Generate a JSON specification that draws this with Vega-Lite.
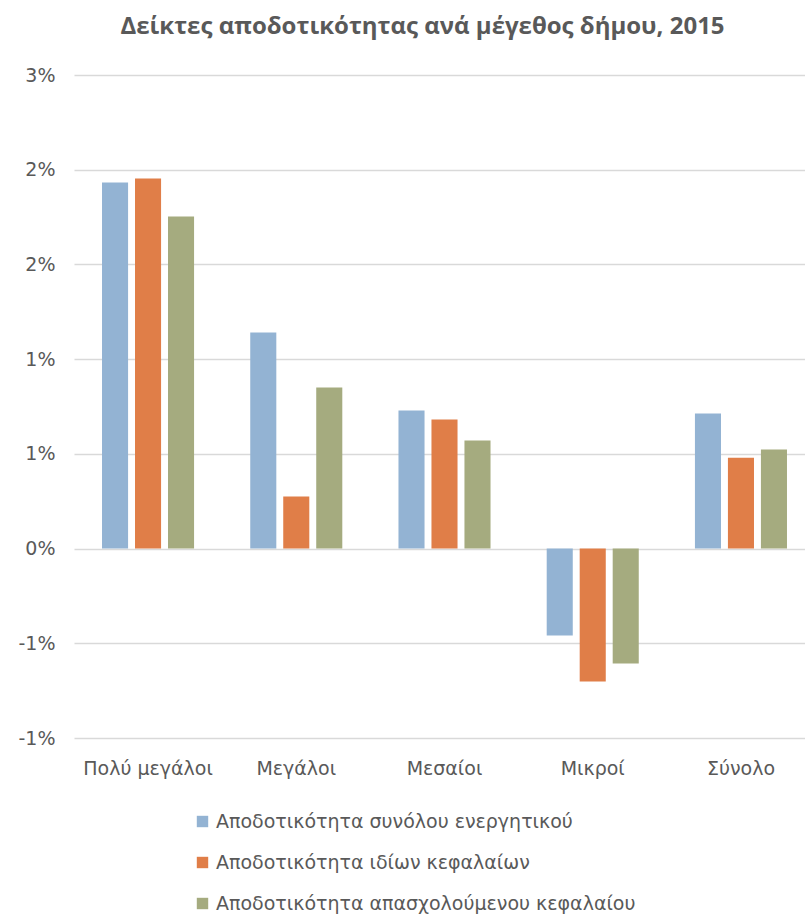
{
  "$schema": "https://vega.github.io/schema/vega-lite/v6.json",
  "width": 741,
  "height": 663,
  "autosize": {"type": "none"},
  "padding": {"left": 74, "top": 75, "right": 0, "bottom": 178},
  "background": "white",
  "title": {
    "text": "Δείκτες αποδοτικότητας ανά μέγεθος δήμου, 2015",
    "font": "Open Sans",
    "fontSize": 24,
    "fontWeight": "bold",
    "color": "#595959",
    "anchor": "middle",
    "baseline": "middle",
    "dx": -22,
    "offset": 15
  },
  "data": {
    "values": [
      {"category": "Πολύ μεγάλοι", "series": "Αποδοτικότητα συνόλου ενεργητικού", "value": 0.01932},
      {"category": "Πολύ μεγάλοι", "series": "Αποδοτικότητα ιδίων κεφαλαίων", "value": 0.01953},
      {"category": "Πολύ μεγάλοι", "series": "Αποδοτικότητα απασχολούμενου κεφαλαίου", "value": 0.01753},
      {"category": "Μεγάλοι", "series": "Αποδοτικότητα συνόλου ενεργητικού", "value": 0.0114},
      {"category": "Μεγάλοι", "series": "Αποδοτικότητα ιδίων κεφαλαίων", "value": 0.00275},
      {"category": "Μεγάλοι", "series": "Αποδοτικότητα απασχολούμενου κεφαλαίου", "value": 0.0085},
      {"category": "Μεσαίοι", "series": "Αποδοτικότητα συνόλου ενεργητικού", "value": 0.00729},
      {"category": "Μεσαίοι", "series": "Αποδοτικότητα ιδίων κεφαλαίων", "value": 0.00681},
      {"category": "Μεσαίοι", "series": "Αποδοτικότητα απασχολούμενου κεφαλαίου", "value": 0.0057},
      {"category": "Μικροί", "series": "Αποδοτικότητα συνόλου ενεργητικού", "value": -0.00459},
      {"category": "Μικροί", "series": "Αποδοτικότητα ιδίων κεφαλαίων", "value": -0.00702},
      {"category": "Μικροί", "series": "Αποδοτικότητα απασχολούμενου κεφαλαίου", "value": -0.00607},
      {"category": "Σύνολο", "series": "Αποδοτικότητα συνόλου ενεργητικού", "value": 0.00713},
      {"category": "Σύνολο", "series": "Αποδοτικότητα ιδίων κεφαλαίων", "value": 0.0048},
      {"category": "Σύνολο", "series": "Αποδοτικότητα απασχολούμενου κεφαλαίου", "value": 0.00523}
    ]
  },
  "mark": {"type": "bar"},
  "encoding": {
    "x": {
      "field": "category",
      "type": "nominal",
      "sort": ["Πολύ μεγάλοι", "Μεγάλοι", "Μεσαίοι", "Μικροί", "Σύνολο"],
      "scale": {"paddingInner": 0.379, "paddingOuter": 0.189},
      "axis": {
        "title": null,
        "labelAngle": 0,
        "labelFont": "DejaVu Sans",
        "labelFontSize": 19,
        "labelColor": "#595959",
        "labelPadding": 21,
        "ticks": false,
        "domain": false,
        "grid": false
      }
    },
    "xOffset": {
      "field": "series",
      "type": "nominal",
      "sort": ["Αποδοτικότητα συνόλου ενεργητικού", "Αποδοτικότητα ιδίων κεφαλαίων", "Αποδοτικότητα απασχολούμενου κεφαλαίου"],
      "scale": {"paddingInner": 0.21, "paddingOuter": 0}
    },
    "y": {
      "field": "value",
      "type": "quantitative",
      "scale": {"domain": [-0.01, 0.025], "nice": false, "zero": false},
      "axis": {
        "title": null,
        "values": [-0.01, -0.005, 0, 0.005, 0.01, 0.015, 0.02, 0.025],
        "labelExpr": "replace(format(datum.value, '.0%'), '−', '-')",
        "labelFont": "DejaVu Sans",
        "labelFontSize": 19,
        "labelColor": "#595959",
        "labelPadding": 19,
        "ticks": false,
        "domain": false,
        "grid": true,
        "gridColor": "#D9D9D9",
        "gridWidth": 1.5
      }
    },
    "color": {
      "field": "series",
      "type": "nominal",
      "sort": ["Αποδοτικότητα συνόλου ενεργητικού", "Αποδοτικότητα ιδίων κεφαλαίων", "Αποδοτικότητα απασχολούμενου κεφαλαίου"],
      "scale": {"range": ["#93B3D3", "#E07E48", "#A5AB7F"]},
      "legend": {
        "title": null,
        "orient": "none",
        "legendX": 119,
        "legendY": 737,
        "direction": "vertical",
        "symbolType": "square",
        "symbolSize": 130,
        "symbolStrokeWidth": 0,
        "labelFont": "DejaVu Sans",
        "labelFontSize": 19,
        "labelColor": "#595959",
        "labelOffset": 4,
        "rowPadding": 21,
        "labelLimit": 600
      }
    }
  },
  "config": {"view": {"stroke": null}}
}
